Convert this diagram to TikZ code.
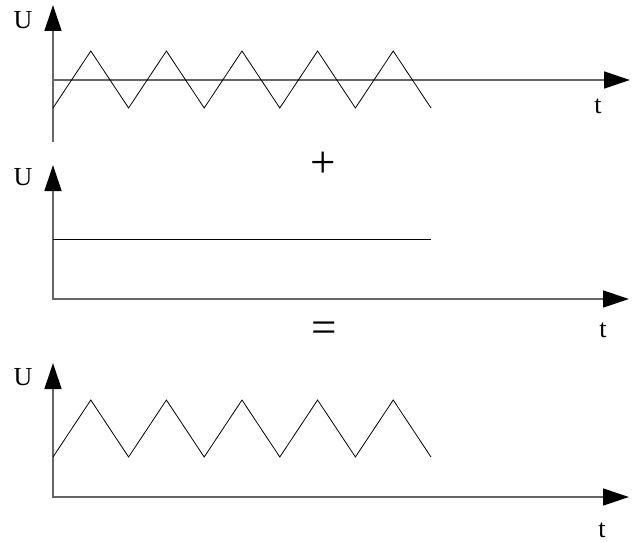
\documentclass[tikz,border=0pt]{standalone}
\usepackage{fontspec}
\setmainfont{Liberation Serif}
\usetikzlibrary{arrows.meta}
\tikzset{axis/.style={-{Triangle[length=26pt,width=17pt,black]},draw=black!60,line width=1.3pt},wave/.style={black,line width=0.8pt},lab/.style={font=\fontsize{26}{26}\selectfont,inner sep=0pt},sign/.style={font=\fontsize{45}{45}\selectfont,inner sep=0pt}}

\begin{document}
\begin{tikzpicture}[x=1pt,y=-1pt]
\useasboundingbox (0,0) rectangle (632,543);
% first plot: triangle around zero
\coordinate (y1a) at (53,142);
\coordinate (y1b) at (53,5);
\coordinate (x1a) at (53,80);
\coordinate (x1b) at (630,80);
\draw[axis] (y1a)--(y1b);
\draw[axis] (x1a)--(x1b);
\draw[wave] (53,108) \foreach \i in {0,...,4}{ -- ++(37.8,-57) -- ++(37.8,57)};
\node[lab] (u1) at (23,20) {U};
\node[lab] (t1) at (598,106) {t};
\node[sign] (plus) at (323,165) {+};
% second plot: constant offset
\coordinate (y2a) at (53,300);
\coordinate (y2b) at (53,165);
\coordinate (x2a) at (53,299);
\coordinate (x2b) at (629,299);
\draw[axis] (y2a)--(y2b);
\draw[axis] (x2a)--(x2b);
\draw[wave] (53,239)--(431,239);
\node[lab] (u2) at (23,177) {U};
\node[lab] (t2) at (603,330) {t};
\node[sign] (eq) at (324,332) {=};
% third plot: sum
\coordinate (y3a) at (53,498);
\coordinate (y3b) at (53,363);
\coordinate (x3a) at (53,497);
\coordinate (x3b) at (629,497);
\draw[axis] (y3a)--(y3b);
\draw[axis] (x3a)--(x3b);
\draw[wave] (53,457) \foreach \i in {0,...,4}{ -- ++(37.8,-57) -- ++(37.8,57)};
\node[lab] (u3) at (23,377) {U};
\node[lab] (t3) at (602,530) {t};
\end{tikzpicture}
\end{document}
